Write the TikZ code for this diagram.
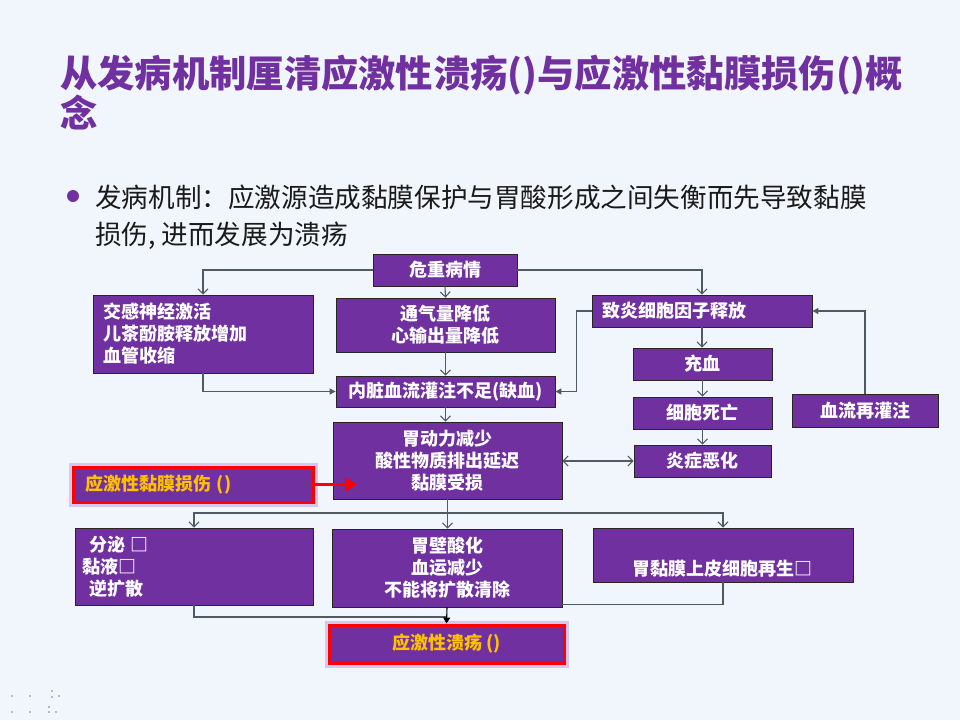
\documentclass[tikz,border=0pt]{standalone}
\usepackage{fontspec}
\setmainfont{Noto Sans CJK SC}
\usetikzlibrary{arrows.meta,calc}
\definecolor{bg}{HTML}{F0F6FC}
\definecolor{pur}{HTML}{7030A0}
\definecolor{lgray}{HTML}{4F5A62}
\definecolor{org}{HTML}{FFC000}
\definecolor{glow}{HTML}{C4A8E8}
\definecolor{txt}{HTML}{1A1A1A}
\begin{document}
\begin{tikzpicture}[x=1pt,y=-1pt,
  box/.style={draw=black!85, line width=0.8pt, fill=pur, text=white,
    font=\fontsize{18}{22}\selectfont\bfseries, inner sep=0pt, align=center},
  redbox/.style={box, draw=red, line width=3pt, text=org,
    preaction={draw=glow, line width=9pt, opacity=0.6}},
  conn/.style={draw=lgray, line width=1.1pt},
  oarr/.style={conn, -{Straight Barb[length=5pt,width=10pt]}},
  farr/.style={conn, -{Triangle[length=6pt,width=6pt]}},
  darr/.style={conn, {Straight Barb[length=5pt,width=10pt]}-{Straight Barb[length=5pt,width=10pt]}},
  ttl/.style={anchor=base west, inner sep=0pt, text=pur, font=\fontsize{37.3}{42}\selectfont\bfseries},
  btxt/.style={anchor=base west, inner sep=0pt, text=txt, font=\fontsize{26.6}{30}\selectfont},
]
\useasboundingbox (0,0) rectangle (960,720);
\fill[bg] (0,0) rectangle (960,720);

% title
\node[ttl] (t1) at (60,87) {从发病机制厘清应激性溃疡()与应激性黏膜损伤()概};
\node[ttl] (t2) at (60,127) {念};

% bullet
\fill[pur] (73,196) circle (6);
\node[btxt] (b1) at (95,207) {发病机制：应激源造成黏膜保护与胃酸形成之间失衡而先导致黏膜};
\node[btxt] (b2) at (95,244) {损伤, 进而发展为溃疡};

% boxes
\node[box, minimum width=144pt, minimum height=32pt] (crit) at (445,270) {危重病情};
\node[box, minimum width=220pt, minimum height=78pt, text width=200pt, align=left] (symp) at (203,334) {交感神经激活\\儿茶酚胺释放增加\\血管收缩};
\node[box, minimum width=219pt, minimum height=54pt] (vent) at (445.5,325) {通气量降低\\心输出量降低};
\node[box, minimum width=219pt, minimum height=31pt] (visc) at (445.5,391.5) {内脏血流灌注不足(缺血)};
\node[box, minimum width=220pt, minimum height=32pt, text width=200pt, align=left] (infl) at (702,311) {致炎细胞因子释放};
\node[box, minimum width=139pt, minimum height=32pt] (cong) at (702.5,364) {充血};
\node[box, minimum width=139pt, minimum height=32pt] (death) at (702.5,413) {细胞死亡};
\node[box, minimum width=137pt, minimum height=32pt] (worse) at (702.5,461) {炎症恶化};
\node[box, minimum width=146pt, minimum height=33pt] (reperf) at (865,410.5) {血流再灌注};
\node[box, minimum width=229pt, minimum height=77pt] (gastro) at (447.5,460.5) {胃动力减少\\酸性物质排出延迟\\黏膜受损};
\node[redbox, minimum width=240pt, minimum height=35pt, text width=216pt, align=left] (mucosa) at (193,484.5) {应激性黏膜损伤 ()};
\node[box, minimum width=238pt, minimum height=77pt, text width=224pt, align=left] (secr) at (194,566.5) {\hspace*{7pt}分泌 □\\黏液□\\\hspace*{7pt}逆扩散};
\node[box, minimum width=230pt, minimum height=78pt] (wall) at (447,568) {胃壁酸化\\血运减少\\不能将扩散清除};
\node[box, minimum width=260pt, minimum height=54pt] (regen) at (723,555) {};
\node[inner sep=0pt, text=white, font=\fontsize{18}{22}\selectfont\bfseries] (regentxt) at (722,569) {胃黏膜上皮细胞再生□};
\node[redbox, minimum width=235pt, minimum height=38pt] (ulcer) at (446.5,644) {应激性溃疡 ()};

% connectors
\draw[oarr] (crit.west) -| (symp.north);
\draw[oarr] (crit.east) -| (infl.north);
\draw[oarr] (crit.south) -- (vent.north);
\draw[oarr] (vent.south) -- (visc.north);
\draw[farr] (symp.south) |- (visc.west);
\draw[farr] (infl.west) -- ++(-15,0) |- (visc.east);
\draw[oarr] (infl.south) -- (infl.south |- cong.north);
\draw[oarr] (cong.south) -- (death.north);
\draw[oarr] (death.south) -- (worse.north);
\draw[farr] (reperf.north) |- (infl.east);
\draw[oarr] (visc.south) -- (visc.south |- gastro.north);
\draw[darr] (gastro.east |- worse.west) -- (worse.west);

\coordinate (redtip) at (357,484.5);
\draw[red, line width=3.5pt, -{Triangle[length=12pt,width=14pt]}] (mucosa.east) -- (redtip);

\coordinate (br) at (447.5,513);
\draw[conn] (gastro.south) -- (br);
\draw[oarr] (br) -| (secr.north);
\draw[oarr] (br) -- (br |- wall.north);
\draw[oarr] (br) -| (regen.north);

\coordinate (join) at (447,617);
\draw[conn] (secr.south) |- (join);
\draw[conn] (regen.south) |- ([yshift=3pt]wall.south east);
\draw[conn, -{Triangle[length=6pt,width=7pt]}, draw=black] (wall.south) -- (ulcer.north);

% specks bottom-left
\foreach \p in {(12,696),(30,696),(52,691),(52,697),(59,696),(12,712),(30,712),(49,707),(49,712),(56,712)}
  \fill[gray] \p circle (0.8);
\end{tikzpicture}
\end{document}
